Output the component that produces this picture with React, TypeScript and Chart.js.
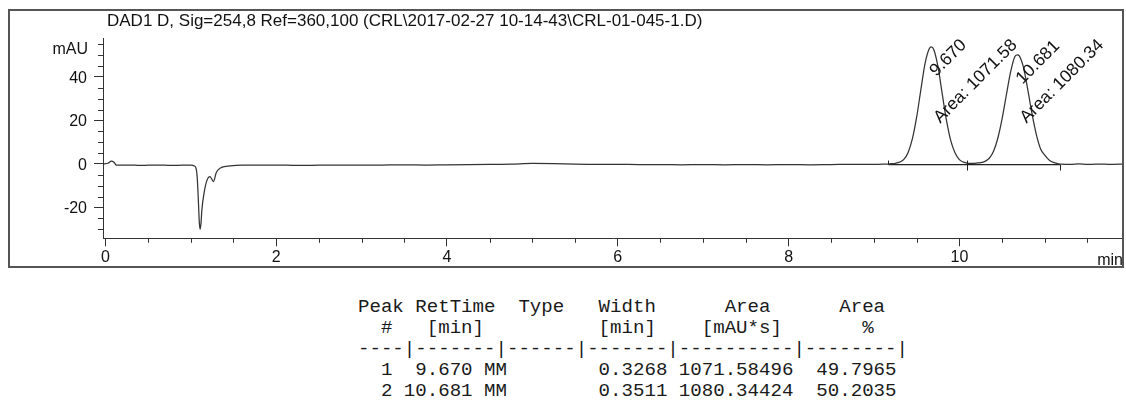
import React, { useEffect, useRef } from 'react';
import { Chart, registerables } from 'chart.js';

Chart.register(...registerables);

const FONT = '"Liberation Sans", Arial, Helvetica, sans-serif';
const MONO = '"Liberation Mono", "Courier New", monospace';

const TITLE = 'DAD1 D, Sig=254,8 Ref=360,100 (CRL\\2017-02-27 10-14-43\\CRL-01-045-1.D)';
const Y_UNIT = 'mAU';
const X_UNIT = 'min';

// Chromatogram trace (retention time in min, absorbance in mAU)
const retentionTime = [
  -0.03, 0.03, 0.07, 0.10, 0.13, 0.2, 0.3, 0.4, 0.5, 0.6, 0.7, 0.8, 0.9, 1.0,
  1.04, 1.06, 1.075, 1.09, 1.10, 1.11, 1.12, 1.13, 1.155, 1.185, 1.225, 1.265, 1.30, 1.36, 1.46, 1.6,
  1.8, 2.0, 2.25, 2.5, 2.75, 3.0, 3.25, 3.5, 3.75, 4.0, 4.25, 4.5, 4.75, 5.0, 5.25, 5.5, 5.75,
  6.0, 6.25, 6.5, 6.75, 7.0, 7.25, 7.5, 7.75, 8.0, 8.25, 8.5, 8.75, 9.0, 9.1,
  9.15, 9.20, 9.25, 9.30, 9.35, 9.40, 9.45, 9.50, 9.55, 9.60, 9.65, 9.67, 9.70, 9.75, 9.80,
  9.85, 9.90, 9.95, 10.00, 10.05, 10.10,
  10.15, 10.20, 10.25, 10.30, 10.35, 10.40, 10.45, 10.50, 10.55, 10.60, 10.65, 10.681, 10.70,
  10.75, 10.80, 10.85, 10.90, 10.95, 11.00, 11.05, 11.10, 11.15, 11.20,
  11.3, 11.4, 11.5, 11.6, 11.7, 11.8, 11.92,
];
const absorbance = [
  0, 0.3, 1.3, 0.8, -0.6, -0.6, -0.5, -0.7, -0.6, -0.5, -0.6, -0.7, -0.6, -0.6,
  -0.9, -1.8, -6, -18, -27, -30, -27, -21, -13.5, -8, -5.8, -8.1, -3.8, -1.6, -0.9, -0.6,
  -0.6, -0.5, -0.7, -0.6, -0.5, -0.6, -0.5, -0.4, -0.5, -0.4, -0.3, -0.2, -0.1, 0.2, 0.1, -0.1, -0.2,
  -0.2, -0.3, -0.3, -0.4, -0.3, -0.4, -0.3, -0.4, -0.3, -0.4, -0.3, -0.2, -0.2, -0.1,
  -0.1, 0.1, 0.3, 0.8, 2.1, 5.3, 11.6, 21.6, 34.4, 46.6, 53.2, 53.8, 52.6, 44.6, 32.0,
  19.8, 10.6, 5.0, 2.0, 0.8, 0.3,
  0.3, 0.4, 0.6, 1.2, 2.6, 5.8, 11.8, 20.7, 31.7, 42.3, 49.4, 50.2, 49.8,
  44.5, 34.4, 23.2, 13.7, 7.0, 4.0, 1.8, 0.7, 0.2, -0.1,
  -0.2, 0.0, -0.2, -0.1, -0.1, -0.2, -0.1,
];

// Integration results
const peakNumbers = [1, 2];
const retTimes = [9.670, 10.681];
const peakTypes = ['MM', 'MM'];
const peakWidths = [0.3268, 0.3511];
const peakAreas = [1071.58496, 1080.34424];
const areaPercents = [49.7965, 50.2035];
const peakHeights = [53.8, 50.2];
const peakStarts = [9.17, 10.09];
const peakEnds = [10.09, 11.18];
const baselineLevels = [-0.3, -0.3];

// Axis ticks
const xMinorTicks = [0.5, 1, 1.5, 2.5, 3, 3.5, 4.5, 5, 5.5, 6.5, 7, 7.5, 8.5, 9, 9.5, 10.5, 11, 11.5];
const yMinorTicks = [-30, -25, -15, -10, -5, 5, 10, 15, 25, 30, 35, 45, 50, 55];

const tableHeader = [
  'Peak RetTime  Type   Width      Area      Area',
  '  #   [min]          [min]    [mAU*s]       %',
  '----|-------|------|-------|----------|--------|',
];

const tableLines = [
  ...tableHeader,
  ...peakNumbers.map((n, i) =>
    String(n).padStart(3) +
    retTimes[i].toFixed(3).padStart(7) + ' ' +
    peakTypes[i] + ' '.repeat(8) +
    peakWidths[i].toFixed(4).padStart(6) + ' ' +
    peakAreas[i].toFixed(5).padStart(10) +
    areaPercents[i].toFixed(4).padStart(9)
  ),
];

const decorPlugin = {
  id: 'decor',
  afterDraw(chart: any) {
    const { ctx, chartArea } = chart;
    const x = chart.scales.x;
    const y = chart.scales.y;
    ctx.save();

    // outer frame
    ctx.strokeStyle = '#555';
    ctx.lineWidth = 2;
    ctx.strokeRect(9, 10, 1114, 257);

    // minor ticks
    ctx.strokeStyle = '#333';
    ctx.lineWidth = 1;
    ctx.beginPath();
    xMinorTicks.forEach((v) => {
      const px = Math.round(x.getPixelForValue(v)) + 0.5;
      ctx.moveTo(px, chartArea.bottom);
      ctx.lineTo(px, chartArea.bottom + 4.5);
    });
    yMinorTicks.forEach((v) => {
      const py = Math.round(y.getPixelForValue(v)) + 0.5;
      ctx.moveTo(chartArea.left - 5, py);
      ctx.lineTo(chartArea.left, py);
    });
    ctx.stroke();

    // integration markers
    ctx.strokeStyle = '#222';
    ctx.lineWidth = 1;
    ctx.beginPath();
    peakStarts.forEach((s, i) => {
      const px = Math.round(x.getPixelForValue(s)) + 0.5;
      const py = y.getPixelForValue(baselineLevels[i]);
      ctx.moveTo(px, py);
      ctx.lineTo(px, py - 4);
    });
    peakEnds.forEach((e, i) => {
      const px = Math.round(x.getPixelForValue(e)) + 0.5;
      const py = y.getPixelForValue(baselineLevels[i]);
      ctx.moveTo(px, py);
      ctx.lineTo(px, py + 6);
    });
    ctx.stroke();

    ctx.fillStyle = '#111';
    // title
    ctx.font = `17px ${FONT}`;
    ctx.textAlign = 'left';
    ctx.textBaseline = 'alphabetic';
    ctx.fillText(TITLE, 107, 26);

    // axis units
    ctx.font = `16px ${FONT}`;
    ctx.textAlign = 'right';
    ctx.fillText(Y_UNIT, chartArea.left - 15, chartArea.top + 15);
    ctx.fillText(X_UNIT, chartArea.right, chartArea.bottom + 27);

    // peak annotations
    ctx.font = `17.5px ${FONT}`;
    ctx.textAlign = 'left';
    retTimes.forEach((rt, i) => {
      const px = x.getPixelForValue(rt);
      const py = y.getPixelForValue(peakHeights[i]);
      ctx.save();
      ctx.translate(px + 5, py + 30);
      ctx.rotate(-Math.PI / 4);
      ctx.fillText(rt.toFixed(3), 0, 0);
      ctx.restore();
      ctx.save();
      ctx.translate(px + 9, y.getPixelForValue(18.5));
      ctx.rotate(-Math.PI / 4);
      ctx.fillText('Area: ' + peakAreas[i].toFixed(2), 0, 0);
      ctx.restore();
    });
    ctx.restore();
  },
};

export default function App() {
  const canvasRef = useRef<HTMLCanvasElement>(null);

  useEffect(() => {
    const canvas = canvasRef.current;
    if (!canvas) return;
    const traceData = retentionTime.map((t, i) => ({ x: t, y: absorbance[i] }));
    const baselineSets = peakStarts.map((s, i) => ({
      data: [
        { x: s, y: baselineLevels[i] },
        { x: peakEnds[i], y: baselineLevels[i] },
      ],
      borderColor: '#222',
      borderWidth: 1.4,
      pointRadius: 0,
      fill: false,
    }));
    const tickFont = { family: FONT, size: 16 };
    const chart = new Chart(canvas, {
      type: 'line',
      data: {
        datasets: [
          {
            data: traceData,
            borderColor: '#333',
            borderWidth: 1.25,
            pointRadius: 0,
            fill: false,
            cubicInterpolationMode: 'monotone',
          },
          ...baselineSets,
        ],
      },
      options: {
        responsive: false,
        animation: false,
        devicePixelRatio: 1,
        layout: { padding: { top: 38.9, right: 3, left: 0, bottom: 0 } },
        plugins: {
          legend: { display: false },
          tooltip: { enabled: false },
          title: { display: false },
        },
        scales: {
          x: {
            type: 'linear',
            min: -0.028,
            max: 11.916,
            afterFit: (s: any) => { s.height = 41.7; },
            ticks: {
              stepSize: 2,
              includeBounds: false,
              autoSkip: false,
              maxRotation: 0,
              padding: 2,
              color: '#111',
              font: tickFont,
            },
            grid: { display: true, drawOnChartArea: false, drawTicks: true, tickLength: 8, color: '#333' },
            border: { display: true, color: '#333', width: 1 },
          },
          y: {
            type: 'linear',
            min: -34.2,
            max: 57.5,
            afterFit: (s: any) => { s.width = 103; },
            ticks: {
              stepSize: 20,
              includeBounds: false,
              autoSkip: false,
              padding: 7,
              labelOffset: 1.5,
              color: '#111',
              font: tickFont,
            },
            grid: { display: true, drawOnChartArea: false, drawTicks: true, tickLength: 9, color: '#333' },
            border: { display: true, color: '#333', width: 1 },
          },
        },
      } as any,
      plugins: [decorPlugin],
    });
    return () => chart.destroy();
  }, []);

  return (
    <div style={{ position: 'fixed', left: 0, top: 0, width: 1126, height: 403, background: '#fff', overflow: 'hidden' }}>
      <canvas
        ref={canvasRef}
        width={1126}
        height={280}
        style={{ position: 'absolute', left: 0, top: 0, width: 1126, height: 280 }}
      />
      <pre
        style={{
          position: 'absolute',
          left: 358,
          top: 297,
          margin: 0,
          fontFamily: MONO,
          fontSize: '19.1px',
          lineHeight: '21px',
          color: '#1a1a1a',
        }}
      >
        {tableLines.join('\n')}
      </pre>
    </div>
  );
}
